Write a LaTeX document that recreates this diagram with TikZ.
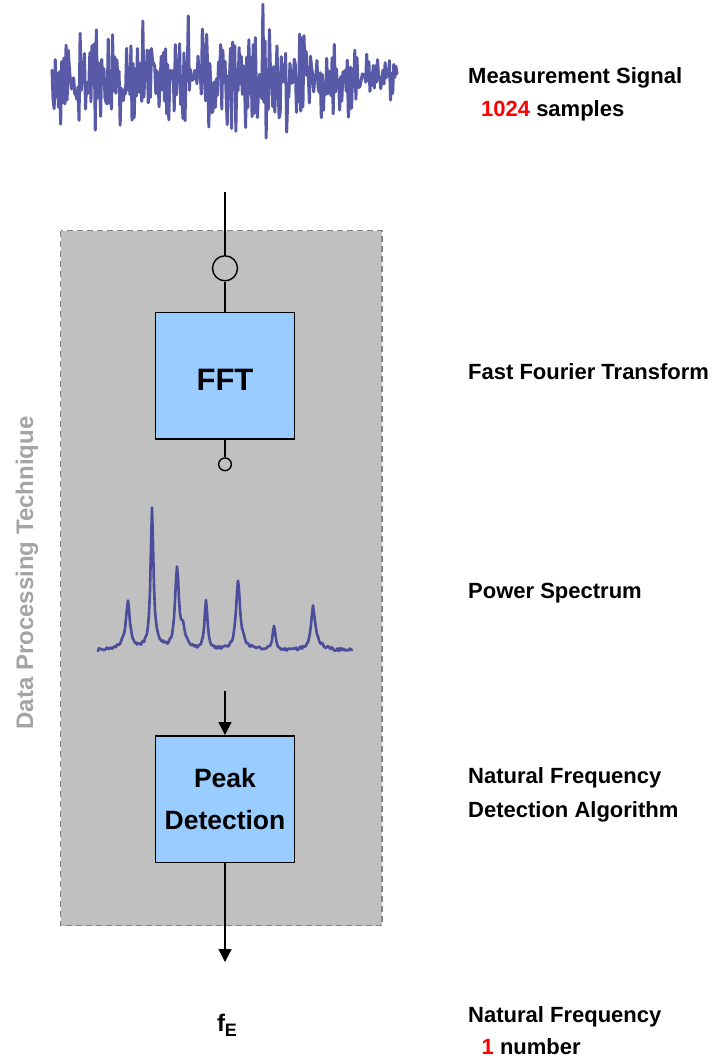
\documentclass[tikz,border=0pt]{standalone}
\usepackage{fontspec}
\setmainfont{Liberation Sans}
\usetikzlibrary{arrows.meta}
\definecolor{panelgray}{HTML}{C0C0C0}
\definecolor{paneledge}{HTML}{858585}
\definecolor{blockblue}{HTML}{99CCFF}
\definecolor{traceblue}{RGB}{46,49,146}
\definecolor{labelgray}{HTML}{A4A4A4}
\definecolor{countred}{HTML}{FF0000}
% Lorentzian line shape: pk(x, height, centre, half width)
\pgfmathdeclarefunction{pk}{4}{\pgfmathparse{#2/(1+((#1-#3)/#4)^2)}}
\begin{document}
\begin{tikzpicture}[x=1pt,y=-1pt,
  lbl/.style={font=\fontsize{22}{26}\selectfont\bfseries, anchor=base west, inner sep=0pt},
  block/.style={draw, line width=1.5pt, fill=blockblue, minimum width=139pt,
                minimum height=126.5pt, inner sep=0pt, align=center},
  tap/.style={circle, draw, line width=1.4pt, fill=panelgray, inner sep=0pt},
  wire/.style={line width=1.4pt},
  flow/.style={wire, -{Triangle[length=13pt,width=13pt]}},
  trace/.style={draw=traceblue, opacity=0.8, line join=round, line cap=round}]
\useasboundingbox (0,0) rectangle (714,1059);

% processing panel
\draw[fill=panelgray, draw=paneledge, line width=1.2pt, dash pattern=on 6pt off 4pt]
  (60.7,230.7) rectangle (382,925.5);
\node[rotate=90, anchor=base, inner sep=0pt, text=labelgray,
      font=\fontsize{24}{28}\selectfont\bfseries] (panelname) at (33,573) {Data Processing Technique};

% raw measurement signal
\pgfmathsetseed{11}
\draw[trace, line width=3pt]
  plot[domain=52:397, samples=320]
  (\x, {78+(((\x<358)?1:0.4)*(22*sin(156*mod(\x,30))*(0.5+rnd) + 18*rand + 48*rand*rnd^2))});

% power spectrum
\draw[trace, line width=2.6pt]
  plot[domain=98:352, samples=255]
  (\x, {652 - pk(\x,40,128,2.2) - pk(\x,8,126,6)
             - pk(\x,132,152,1.6) - pk(\x,10,154,6)
             - pk(\x,80,177,2.2) - pk(\x,18,183,3)
             - pk(\x,48,206,1.8) - pk(\x,64,238,2.2) - pk(\x,8,241,6)
             - pk(\x,23,274,1.8) - pk(\x,38,313,2.2) - pk(\x,8,316,6)
             - 3*rnd});

% signal chain
\coordinate (in) at (225,192);
\node[tap, minimum size=25pt] (c1) at (225,268.3) {};
\node[block, text height=30pt, text depth=0pt,
      font=\fontsize{31}{37}\selectfont\bfseries] (fft) at (225,375.9) {FFT};
\node[tap, minimum size=12.7pt] (c2) at (225,464.3) {};
\draw[wire] (in) -- (c1);
\draw[wire] (c1) -- (fft);
\draw[wire] (fft) -- (c2);

\coordinate (sp) at (225,691);
\node[block, font=\fontsize{26.5}{42.7}\selectfont\bfseries] (pd) at (225,799) {Peak\\Detection};
\coordinate (out) at (225,962);
\draw[flow] (sp) -- (pd);
\draw[flow] (pd) -- (out);

\node[anchor=base, inner sep=0pt, font=\fontsize{24}{28}\selectfont\bfseries] (fe)
  at (227,1031) {f\raisebox{-5.7pt}{\fontsize{18}{18}\selectfont E}};

% descriptions
\node[lbl] (l1) at (468,83.5) {Measurement Signal};
\node[lbl] (l1b) at (481,116.5) {\textcolor{countred}{1024} samples};
\node[lbl] (l2) at (468,379.5) {Fast Fourier Transform};
\node[lbl] (l3) at (468,598.5) {Power Spectrum};
\node[lbl] (l4) at (468,783.5) {Natural Frequency};
\node[lbl] (l4b) at (468,817.5) {Detection Algorithm};
\node[lbl] (l5) at (468,1022) {Natural Frequency};
\node[lbl] (l5b) at (481.5,1054.5) {\textcolor{countred}{1} number};
\end{tikzpicture}
\end{document}
